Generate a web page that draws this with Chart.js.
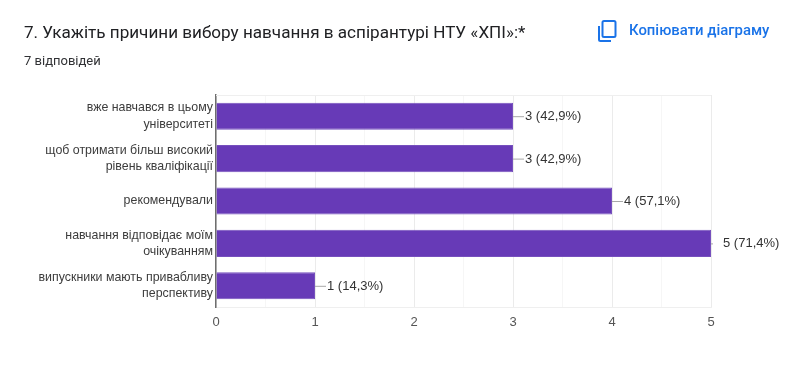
<!DOCTYPE html>
<html lang="uk">
<head>
<meta charset="utf-8">
<title>Причини вибору навчання</title>
<style>
  html, body { margin: 0; padding: 0; background: #fff; }
  #wrap { position: relative; width: 800px; height: 368px; overflow: hidden; }
  #chartBox { position: absolute; left: 0; top: 0; width: 800px; height: 368px; }
  .title { position: absolute; left: 24px; top: 22px; font: 400 17.1px Roboto, sans-serif; color: #202124; white-space: nowrap; }
  .sub { position: absolute; left: 24px; top: 53px; font: 400 13px Roboto, sans-serif; color: #303134; white-space: nowrap; }
  .copy { position: absolute; left: 629px; top: 21px; font: 500 14.9px Roboto, sans-serif; color: #1a73e8; white-space: nowrap; }
  .icon { position: absolute; left: 596px; top: 18px; }
</style>
</head>
<body>
<div id="wrap">
  <div id="chartBox"><canvas id="reasonsChart"></canvas></div>
  <div class="title">7. Укажіть причини вибору навчання в аспірантурі НТУ «ХПІ»:*</div>
  <div class="sub">7 відповідей</div>
  <svg class="icon" width="22" height="25" viewBox="0 0 22 25">
    <path d="M8 3h10a1.5 1.5 0 0 1 1.5 1.5v13a1.5 1.5 0 0 1-1.5 1.5H8a1.5 1.5 0 0 1-1.5-1.5v-13A1.5 1.5 0 0 1 8 3z" fill="none" stroke="#1a73e8" stroke-width="2"/>
    <path d="M3 8v13.5A1.5 1.5 0 0 0 4.500 23H15" fill="none" stroke="#1a73e8" stroke-width="2"/>
  </svg>
  <div class="copy">Копіювати діаграму</div>
</div>

<script src="https://cdn.jsdelivr.net/npm/chart.js@4"></script>
<script>
const categories = [
  ['вже навчався в цьому', 'університеті'],
  ['щоб отримати більш високий', 'рівень кваліфікації'],
  ['рекомендували'],
  ['навчання відповідає моїм', 'очікуванням'],
  ['випускники мають привабливу', 'перспективу']
];
const answers = [3, 3, 4, 5, 1];
const valueLabels = ['3 (42,9%)', '3 (42,9%)', '4 (57,1%)', '5 (71,4%)', '1 (14,3%)'];

// leader lines and value text next to each bar
const barLabels = {
  id: 'barLabels',
  afterDatasetsDraw(chart) {
    const { ctx, scales: { x, y } } = chart;
    ctx.save();
    ctx.font = '13px "Liberation Sans", Arial, sans-serif';
    ctx.textBaseline = 'middle';
    answers.forEach((value, i) => {
      const end = x.getPixelForValue(value);
      const mid = y.getPixelForValue(i);
      const isMax = value === x.max;
      ctx.strokeStyle = '#a8a8a8';
      ctx.lineWidth = 1;
      ctx.beginPath();
      ctx.moveTo(end, mid + 0.5);
      ctx.lineTo(end + (isMax ? 2 : 11), mid + 0.5);
      ctx.stroke();
      ctx.fillStyle = '#333';
      ctx.fillText(valueLabels[i], end + 12, mid + 0.5);
    });
    ctx.restore();
  }
};

// light line along the top of the plot
const topLine = {
  id: 'topLine',
  beforeDatasetsDraw(chart) {
    const { ctx, chartArea } = chart;
    ctx.save();
    ctx.strokeStyle = '#efefef';
    ctx.beginPath();
    ctx.moveTo(chartArea.left, chartArea.top + 0.5);
    ctx.lineTo(chartArea.right, chartArea.top + 0.5);
    ctx.stroke();
    ctx.restore();
  }
};

new Chart(document.getElementById('reasonsChart'), {
  type: 'bar',
  data: {
    labels: categories,
    datasets: [{
      data: answers,
      backgroundColor: '#673ab7',
      borderColor: '#7650bd',
      borderWidth: 1,
      barPercentage: 0.64,
      categoryPercentage: 1
    }]
  },
  plugins: [barLabels, topLine],
  options: {
    responsive: true,
    maintainAspectRatio: false,
    animation: false,
    indexAxis: 'y',
    layout: { padding: { left: 0, right: 89, top: 95, bottom: 0 } },
    plugins: {
      legend: { display: false },
      tooltip: { enabled: false }
    },
    scales: {
      x: {
        min: 0,
        max: 5,
        afterFit(scale) { scale.height = 61; },
        border: { color: '#efefef' },
        grid: {
          drawTicks: false,
          color: c => (c.tick.value % 1 === 0 ? '#ebebeb' : '#f6f6f6')
        },
        ticks: {
          stepSize: 0.5,
          autoSkip: false,
          maxRotation: 0,
          padding: 8,
          color: '#555',
          font: { family: '"Liberation Sans", Arial, sans-serif', size: 13 },
          callback: value => (value % 1 === 0 ? value : '')
        }
      },
      y: {
        afterFit(scale) { scale.width = 216; },
        border: { color: '#6e6e6e', width: 1.5 },
        grid: { display: false, drawTicks: false },
        ticks: {
          padding: 3,
          color: '#3c3c3c',
          font: { family: '"Liberation Sans", Arial, sans-serif', size: 12.4, lineHeight: 1.33 }
        }
      }
    }
  }
});
</script>
</body>
</html>
